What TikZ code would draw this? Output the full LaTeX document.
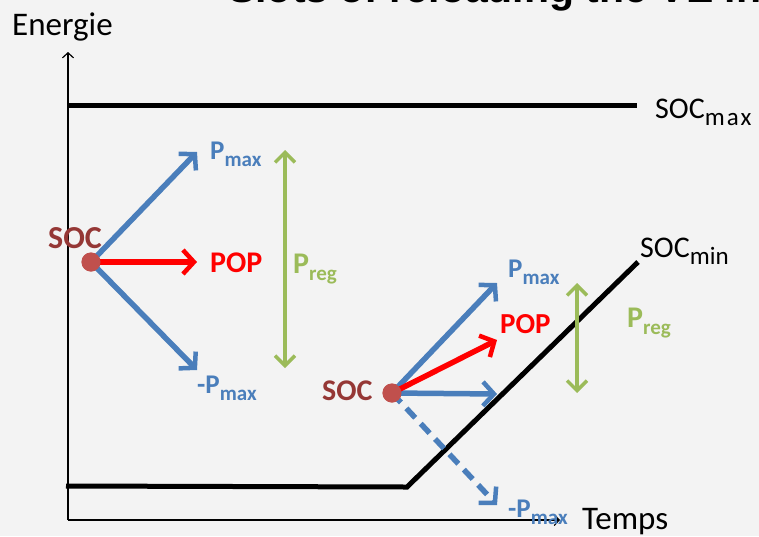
\documentclass[tikz,border=0pt]{standalone}
\usepackage{fontspec}
\setmainfont{Carlito}
\newfontfamily\headfont{Liberation Sans}
\usetikzlibrary{arrows.meta}

\definecolor{paper}{RGB}{243,243,243}
\definecolor{pblue}{RGB}{74,126,187}
\definecolor{pred}{RGB}{255,0,0}
\definecolor{pgreen}{RGB}{155,187,89}
\definecolor{socdot}{RGB}{192,80,77}
\definecolor{soctext}{RGB}{149,55,53}

% subscripts set lower and smaller than the main letters
\newcommand{\lowsub}[1]{\raisebox{-7pt}{\fontsize{21}{21}\selectfont #1}}
\newcommand{\limsub}[2][0]{\raisebox{-7pt}{\fontsize{25}{25}\selectfont\addfontfeature{LetterSpace=#1}#2}}

\tikzset{
  lbl/.style={inner sep=0pt, anchor=base west},
  big/.style={font=\fontsize{33}{33}\selectfont},
  boldlbl/.style={lbl, font=\bfseries\fontsize{30}{30}\selectfont},
  smalllbl/.style={lbl, font=\bfseries\fontsize{27}{27}\selectfont},
  axis/.style={line width=1.5pt, -{Straight Barb[length=5pt,width=11pt,line width=1.2pt]}},
  socline/.style={line width=5pt, line join=miter},
  power/.style={line width=5.5pt, -{Straight Barb[length=11pt,width=24pt,line width=4.5pt]}},
  regspan/.style={line width=4pt, pgreen, {Straight Barb[length=10pt,width=20pt,line width=3.5pt]}-{Straight Barb[length=10pt,width=20pt,line width=3.5pt]}},
  dot/.style={circle, fill=socdot, minimum size=19pt, inner sep=0pt},
}

\begin{document}
\begin{tikzpicture}[x=1pt,y=-1pt]
  \useasboundingbox (0,0) rectangle (759,536);
  \clip (0,0) rectangle (759,536);
  \fill[paper] (0,0) rectangle (759,536);

  % heading, cut by the top edge
  \node[lbl, font=\headfont\bfseries\fontsize{41}{41}\selectfont] (title) at (228,2) {Slots of reloading the VE in};

  % axes
  \coordinate (o) at (68,520);
  \coordinate (ytip) at (68,52);
  \coordinate (xtip) at (560,520);
  \draw[axis] (o) -- (ytip);
  \draw[axis] (o) -- (xtip);
  \node[lbl, big] (energie) at (12,35) {Energie};
  \node[lbl, big] (temps) at (582,529) {Temps};

  % state of charge limits
  \coordinate (maxa) at (68,105);
  \coordinate (maxb) at (637,105);
  \draw[socline] (maxa) -- (maxb);
  \node[lbl, font=\fontsize{30}{30}\selectfont] (socmax) at (655,118) {SOC\limsub[8]{max}};

  \coordinate (mina) at (66,486);
  \coordinate (minknee) at (407,487);
  \coordinate (minb) at (638,262);
  \draw[socline] (mina) -- (minknee) -- (minb);
  \node[lbl, font=\fontsize{30}{30}\selectfont] (socmin) at (640,257) {SOC\limsub{min}};

  % first operating point
  \node[dot] (socA) at (91,262) {};
  \coordinate (upA) at (197,152);
  \coordinate (popA) at (197,262);
  \coordinate (downA) at (197,370);
  \draw[power, pblue] (socA.center) -- (upA);
  \draw[power, pblue] (socA.center) -- (downA);
  \draw[power, pred] (socA.center) -- (popA);
  \node[dot] at (socA) {};
  \node[boldlbl, text=soctext, font=\bfseries\fontsize{32}{32}\selectfont] (socAlbl) at (48,248) {SOC};
  \node[smalllbl, text=pblue] (upAlbl) at (210,159) {P\lowsub{max}};
  \node[boldlbl, text=pred] (popAlbl) at (210,272) {POP};
  \node[smalllbl, text=pblue] (downAlbl) at (197,393) {-P\lowsub{max}};

  \coordinate (regAtop) at (285,150);
  \coordinate (regAbot) at (285,368);
  \draw[regspan] (regAtop) -- (regAbot);
  \node[boldlbl, text=pgreen] (regAlbl) at (293,273) {P\lowsub{reg}};

  % second operating point, close to the lower limit
  \node[dot] (socB) at (392,393) {};
  \coordinate (upB) at (497,283);
  \coordinate (popB) at (497,340);
  \coordinate (flatB) at (497,394);
  \coordinate (downB) at (497,505);
  \draw[power, pblue] (socB.center) -- (upB);
  \draw[power, pblue] (socB.center) -- (flatB);
  \draw[power, pblue, dash pattern=on 13pt off 8pt] (socB.center) -- (downB);
  \draw[power, pred] (socB.center) -- (popB);
  \node[dot] at (socB) {};
  \node[boldlbl, text=soctext] (socBlbl) at (322,400) {SOC};
  \node[smalllbl, text=pblue] (upBlbl) at (508,277) {P\lowsub{max}};
  \node[boldlbl, text=pred, font=\bfseries\fontsize{29}{29}\selectfont] (popBlbl) at (500,333) {POP};
  \node[smalllbl, text=pblue] (downBlbl) at (508,517) {-P\lowsub{max}};

  \coordinate (regBtop) at (577,283);
  \coordinate (regBbot) at (577,393);
  \draw[regspan] (regBtop) -- (regBbot);
  \node[boldlbl, text=pgreen] (regBlbl) at (627,327) {P\lowsub{reg}};
\end{tikzpicture}
\end{document}
